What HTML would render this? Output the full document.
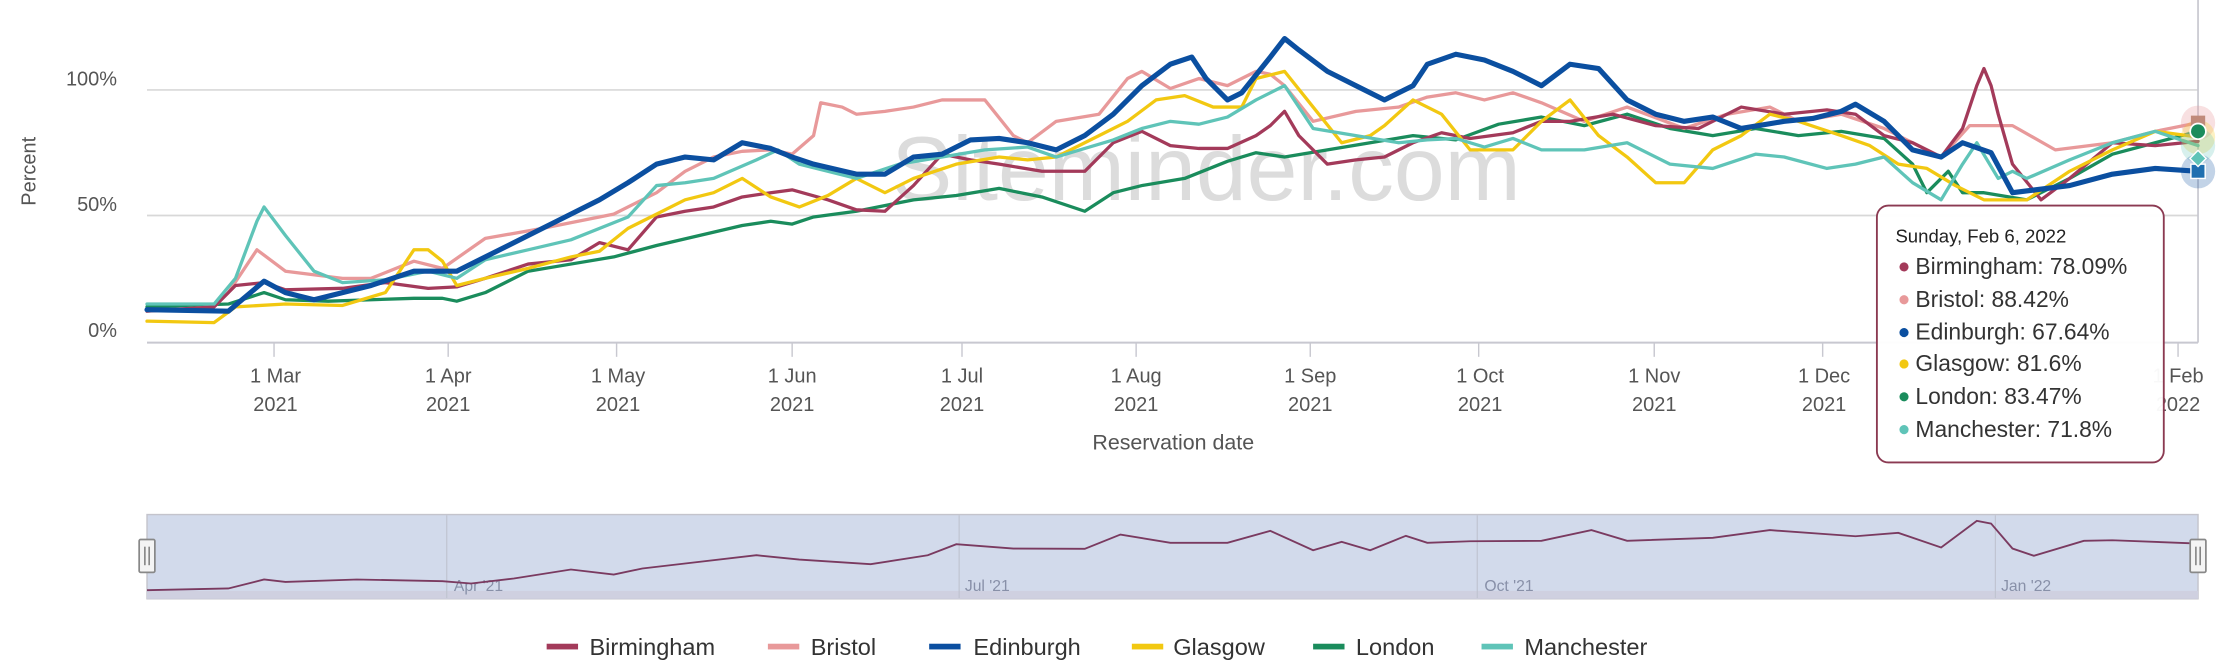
<!DOCTYPE html>
<html><head><meta charset="utf-8"><style>
html,body{margin:0;padding:0;background:#fff;}
svg{display:block;font-family:"Liberation Sans",sans-serif;}
</style></head><body>
<svg width="2238" height="670" viewBox="0 0 1568 469.4" xmlns="http://www.w3.org/2000/svg">
<rect width="1568" height="470" fill="#fff"/>
<!-- grid -->
<g stroke="#d8d8d8" stroke-width="1.2">
<line x1="103" y1="63" x2="1540" y2="63"/>
<line x1="103" y1="151" x2="1540" y2="151"/>
</g>
<line x1="103" y1="240" x2="1540" y2="240" stroke="#c8c8d0" stroke-width="1.4"/>
<line x1="1540" y1="0" x2="1540" y2="240" stroke="#c8c8d0" stroke-width="1.2"/>
<!-- ticks -->
<g stroke="#c8c8d0" stroke-width="1">
<line x1="192" y1="240" x2="192" y2="250"/><line x1="314" y1="240" x2="314" y2="250"/>
<line x1="432" y1="240" x2="432" y2="250"/><line x1="555" y1="240" x2="555" y2="250"/>
<line x1="674" y1="240" x2="674" y2="250"/><line x1="796" y1="240" x2="796" y2="250"/>
<line x1="918" y1="240" x2="918" y2="250"/><line x1="1036" y1="240" x2="1036" y2="250"/>
<line x1="1159" y1="240" x2="1159" y2="250"/><line x1="1277" y1="240" x2="1277" y2="250"/>
<line x1="1526" y1="240" x2="1526" y2="250"/>
</g>
<!-- watermark -->
<text x="845" y="140" font-size="64" fill="#dcdcdc" text-anchor="middle">Siteminder.com</text>
<!-- y labels -->
<g font-size="14" fill="#555" text-anchor="end">
<text x="82" y="60">100%</text><text x="82" y="148">50%</text><text x="82" y="236">0%</text>
</g>
<text transform="translate(25,120) rotate(-90)" font-size="14" fill="#555" text-anchor="middle">Percent</text>
<!-- x labels -->
<g font-size="14" fill="#555" text-anchor="middle">
<text x="193" y="268">1 Mar</text><text x="193" y="288">2021</text>
<text x="314" y="268">1 Apr</text><text x="314" y="288">2021</text>
<text x="433" y="268">1 May</text><text x="433" y="288">2021</text>
<text x="555" y="268">1 Jun</text><text x="555" y="288">2021</text>
<text x="674" y="268">1 Jul</text><text x="674" y="288">2021</text>
<text x="796" y="268">1 Aug</text><text x="796" y="288">2021</text>
<text x="918" y="268">1 Sep</text><text x="918" y="288">2021</text>
<text x="1037" y="268">1 Oct</text><text x="1037" y="288">2021</text>
<text x="1159" y="268">1 Nov</text><text x="1159" y="288">2021</text>
<text x="1278" y="268">1 Dec</text><text x="1278" y="288">2021</text>
<text x="1526" y="268">1 Feb</text><text x="1526" y="288">2022</text>
</g>
<text x="822" y="315" font-size="15" fill="#555" text-anchor="middle">Reservation date</text>
<!-- series -->
<g fill="none" stroke-linejoin="round" stroke-linecap="round">
<polyline stroke="#1a8c5c" stroke-width="2.3" points="103,215 130,214 160,213 185,205 200,210 230,211 260,210 290,209 310,209 320,211 340,205 370,190 400,185 430,180 460,172 490,165 520,158 540,155 555,157 570,152 600,148 640,140 670,137 700,132 730,138 760,148 780,135 800,130 830,125 860,113 880,107 900,110 930,105 960,100 990,95 1020,98 1050,87 1080,82 1110,88 1140,80 1170,90 1200,95 1230,90 1260,95 1290,92 1320,97 1340,115 1350,135 1365,120 1375,135 1390,135 1420,140 1450,125 1480,108 1510,100 1540,92"/>
<polyline stroke="#e8999a" stroke-width="2.3" points="103,218 150,215 160,205 180,175 200,190 240,195 260,195 290,183 310,188 340,167 380,160 430,150 460,135 480,120 500,110 520,106 540,105 555,108 570,95 575,72 590,75 600,80 620,78 640,75 660,70 690,70 710,95 720,100 740,85 770,80 790,55 800,50 820,62 840,55 860,60 880,50 890,52 900,60 920,85 950,78 980,75 1000,68 1020,65 1040,70 1060,65 1080,72 1110,85 1140,75 1180,90 1210,80 1240,75 1260,85 1290,80 1320,90 1340,100 1360,110 1380,88 1410,88 1440,105 1480,100 1510,92 1540,86"/>
<polyline stroke="#a33a5a" stroke-width="2.3" points="103,218 150,215 165,200 185,198 200,203 240,202 270,198 300,202 320,201 340,195 370,185 400,182 420,170 440,175 460,152 480,148 500,145 520,138 540,135 555,133 580,140 600,147 620,148 640,130 660,108 680,112 700,115 730,120 760,120 780,100 800,92 820,102 840,104 860,104 880,95 890,88 900,78 910,95 930,115 950,112 970,110 990,100 1010,93 1030,97 1060,93 1080,85 1100,85 1130,80 1160,88 1190,90 1220,75 1250,80 1280,77 1300,80 1320,95 1340,100 1360,110 1375,90 1385,60 1390,48 1395,60 1400,80 1410,115 1430,140 1450,125 1480,100 1510,102 1540,99"/>
<polyline stroke="#f2c811" stroke-width="2.3" points="103,225 150,226 165,215 200,213 240,214 270,205 290,175 300,175 310,183 320,200 340,195 370,188 400,180 420,176 440,160 460,150 480,140 500,135 520,125 540,138 560,145 580,137 600,125 620,135 640,125 670,115 700,110 720,112 740,110 770,95 790,85 810,70 830,67 850,75 870,75 880,55 900,50 920,75 940,100 960,95 970,88 990,70 1010,80 1030,105 1060,105 1080,85 1100,70 1120,95 1140,110 1160,128 1180,128 1200,105 1220,95 1240,80 1260,85 1290,95 1310,102 1330,115 1350,118 1370,130 1390,140 1420,140 1450,120 1480,105 1510,92 1540,96"/>
<polyline stroke="#5fc4b8" stroke-width="2.3" points="103,213 150,213 165,195 180,155 185,145 200,165 220,190 240,198 270,196 300,190 320,195 340,182 370,175 400,168 440,152 460,130 480,128 500,125 530,112 545,105 560,115 600,125 630,115 660,110 690,105 720,103 740,110 760,104 780,98 800,90 820,85 840,87 860,82 880,70 900,60 920,90 950,95 980,100 1000,98 1020,97 1040,103 1060,97 1080,105 1110,105 1140,100 1170,115 1200,118 1230,108 1250,110 1280,118 1300,115 1320,110 1340,128 1360,140 1375,115 1385,100 1400,125 1410,120 1420,125 1450,112 1480,100 1510,92 1540,102"/>
<polyline stroke="#0b4fa0" stroke-width="3.6" points="103,217 160,218 185,197 200,205 220,210 260,200 290,190 320,190 340,180 360,170 390,155 420,140 440,128 460,115 480,110 500,112 520,100 540,104 555,110 570,115 600,122 620,122 640,110 660,108 680,98 700,97 720,100 740,105 760,95 780,80 800,60 820,45 835,40 845,55 860,70 870,65 890,40 900,27 910,35 930,50 950,60 970,70 990,60 1000,45 1020,38 1040,42 1060,50 1080,60 1100,45 1120,48 1140,70 1160,80 1180,85 1200,82 1220,90 1250,85 1270,83 1290,78 1300,73 1320,85 1340,105 1360,110 1375,100 1395,107 1410,135 1450,130 1480,122 1510,118 1540,120"/>
</g>
<!-- end markers -->
<circle cx="1540" cy="86" r="12" fill="#e8999a" opacity="0.3"/>
<circle cx="1540" cy="96" r="12" fill="#f2c811" opacity="0.25"/>
<circle cx="1540" cy="102" r="12" fill="#5fc4b8" opacity="0.25"/>
<circle cx="1540" cy="120" r="12" fill="#0b4fa0" opacity="0.25"/>
<rect x="1535" y="81" width="10" height="10" fill="#c08a7a"/>
<circle cx="1540" cy="92" r="5.5" fill="#1a8c5c" stroke="#fff" stroke-width="1.2"/>
<rect x="1535" y="115" width="10" height="10" fill="#1f6fb0" stroke="#fff" stroke-width="1"/>
<rect x="1536" y="107" width="8" height="8" fill="#5fc4b8" stroke="#fff" stroke-width="1" transform="rotate(45 1540 111)"/>
<!-- tooltip -->
<rect x="1315" y="144" width="201" height="180" rx="8" fill="#fff" fill-opacity="0.96" stroke="#8b3a52" stroke-width="1.3"/>
<text x="1328" y="170" font-size="13" fill="#222">Sunday, Feb 6, 2022</text>
<g font-size="16" fill="#333">
<circle cx="1334" cy="187" r="3.2" fill="#a33a5a"/><text x="1342" y="192">Birmingham: 78.09%</text>
<circle cx="1334" cy="210" r="3.2" fill="#e8999a"/><text x="1342" y="215">Bristol: 88.42%</text>
<circle cx="1334" cy="233" r="3.2" fill="#0b4fa0"/><text x="1342" y="238">Edinburgh: 67.64%</text>
<circle cx="1334" cy="255" r="3.2" fill="#f2c811"/><text x="1342" y="260">Glasgow: 81.6%</text>
<circle cx="1334" cy="278" r="3.2" fill="#1a8c5c"/><text x="1342" y="283">London: 83.47%</text>
<circle cx="1334" cy="301" r="3.2" fill="#5fc4b8"/><text x="1342" y="306">Manchester: 71.8%</text>
</g>
<!-- navigator -->
<rect x="103" y="360.5" width="1437" height="59" fill="#d2daeb" stroke="#c4c4cc" stroke-width="1"/>
<rect x="103" y="414" width="1437" height="5.5" fill="#cfd0e0"/>
<g stroke="#bfc3d0" stroke-width="0.8">
<line x1="313" y1="361" x2="313" y2="419"/><line x1="672" y1="361" x2="672" y2="419"/>
<line x1="1035" y1="361" x2="1035" y2="419"/><line x1="1398" y1="361" x2="1398" y2="419"/>
</g>
<g font-size="11" fill="#8890a8">
<text x="318" y="414">Apr '21</text><text x="676" y="414">Jul '21</text>
<text x="1040" y="414">Oct '21</text><text x="1402" y="414">Jan '22</text>
</g>
<polyline fill="none" stroke="#7a3a60" stroke-width="1.3" points="103,413.5 160,412.3 185,406 200,407.7 250,406 310,407.2 330,408.8 360,405.3 400,399 430,402.5 450,398.3 480,394.8 530,389 560,392 610,395.3 650,389 670,381.3 710,384.3 760,384.5 785,374.5 820,380.3 860,380.3 890,371.9 920,385.5 940,379.6 960,385.5 985,375.4 1000,380.3 1030,379.2 1080,378.9 1115,371.4 1140,378.9 1200,376.8 1240,371.4 1300,375.7 1330,373.3 1360,383.6 1385,364.9 1395,366.8 1410,384.3 1425,389.4 1460,378.9 1480,378.5 1540,380.8"/>
<rect x="97.5" y="378" width="11" height="23" rx="1" fill="#f4f4f4" stroke="#888" stroke-width="1.2"/>
<line x1="101.5" y1="383" x2="101.5" y2="396" stroke="#777" stroke-width="1"/><line x1="104.5" y1="383" x2="104.5" y2="396" stroke="#777" stroke-width="1"/>
<rect x="1534.5" y="378" width="11" height="23" rx="1" fill="#f4f4f4" stroke="#888" stroke-width="1.2"/>
<line x1="1538.5" y1="383" x2="1538.5" y2="396" stroke="#777" stroke-width="1"/><line x1="1541.5" y1="383" x2="1541.5" y2="396" stroke="#777" stroke-width="1"/>
<!-- legend -->
<g font-size="16.5" fill="#333">
<rect x="383" y="451" width="22" height="4" fill="#a33a5a"/><text x="413" y="459">Birmingham</text>
<rect x="538" y="451" width="22" height="4" fill="#e8999a"/><text x="568" y="459">Bristol</text>
<rect x="651" y="451" width="22" height="4" fill="#0b4fa0"/><text x="682" y="459">Edinburgh</text>
<rect x="793" y="451" width="22" height="4" fill="#f2c811"/><text x="822" y="459">Glasgow</text>
<rect x="920" y="451" width="22" height="4" fill="#1a8c5c"/><text x="950" y="459">London</text>
<rect x="1038" y="451" width="22" height="4" fill="#5fc4b8"/><text x="1068" y="459">Manchester</text>
</g>
</svg>
</body></html>
